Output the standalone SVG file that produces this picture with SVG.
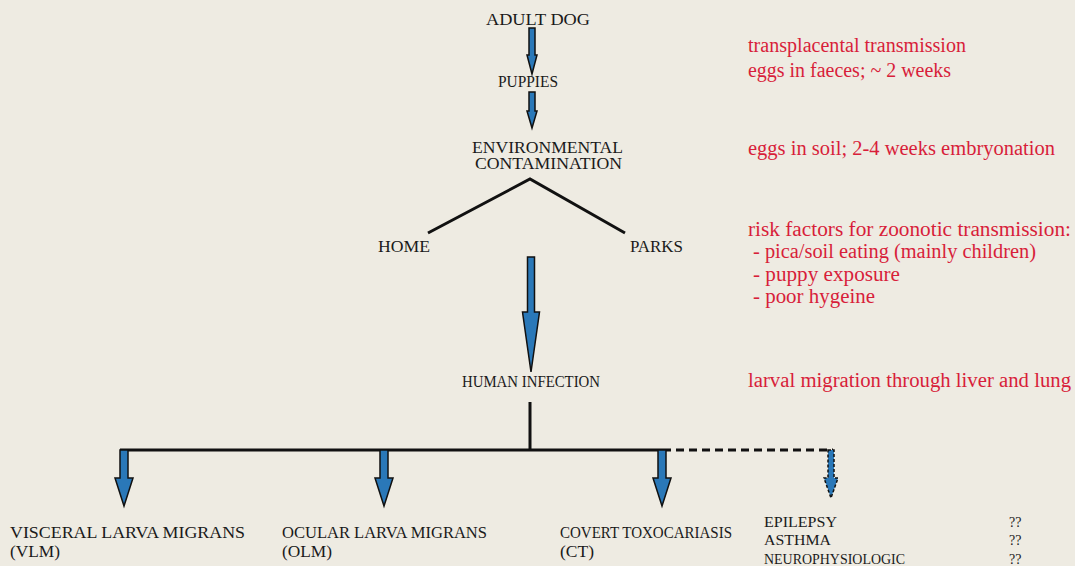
<svg xmlns="http://www.w3.org/2000/svg" width="1075" height="566" viewBox="0 0 1075 566">
<style>
text{font-family:'Liberation Serif','Times New Roman',serif}
.t{font-size:16px;fill:#1a1a1a}
.s{font-size:14px}
.r{font-size:20px;fill:#d81e3a}
.ln{stroke:#111;stroke-width:3;fill:none}
.ar{fill:#2a78b8;stroke:#111;stroke-width:1.5;stroke-linejoin:miter}
.ard{fill:#2a78b8;stroke:#111;stroke-width:1.5;stroke-dasharray:3 2}
</style>
<rect width="1075" height="566" fill="#eeebe2"/>
<g id="connectors">
<polygon class="ar" points="529,28 535,28 535,55 537,55 532,74 527,55 529,55"/>
<polygon class="ar" points="529,92 535,92 535,111 537,111 532,128 527,111 529,111"/>
<path class="ln" d="M428,233 L530,179 L625,233"/>
<polygon class="ar" points="527.5,257 534.5,257 534.5,312 539.5,312 531,372 522.5,312 527.5,312"/>
<path class="ln" d="M530,402 V450"/>
<path class="ln" d="M120,450 H663"/>
<path class="ln" d="M663,450 H833" stroke-dasharray="8 5"/>
<polygon class="ar" points="120,450 128,450 128,478 133,478 124,506 115,478 120,478"/>
<polygon class="ar" points="380,450 388,450 388,478 393,478 384,506 375,478 380,478"/>
<polygon class="ar" points="658,450 666,450 666,478 671,478 662,506 653,478 658,478"/>
<polygon class="ard" points="828,450 834,450 834,478 838,478 831,498 824,478 828,478"/>
</g>
<g id="adult-dog"><text class="t" x="486" y="25" textLength="104" lengthAdjust="spacingAndGlyphs">ADULT DOG</text></g>
<g id="puppies"><text class="t" x="498" y="87" textLength="60" lengthAdjust="spacingAndGlyphs">PUPPIES</text></g>
<g id="env"><text class="t" x="472" y="153" textLength="151" lengthAdjust="spacingAndGlyphs">ENVIRONMENTAL</text><text class="t" x="475" y="169" textLength="147" lengthAdjust="spacingAndGlyphs">CONTAMINATION</text></g>
<g id="home"><text class="t" x="378" y="252" textLength="52" lengthAdjust="spacingAndGlyphs">HOME</text></g>
<g id="parks"><text class="t" x="630" y="252" textLength="53" lengthAdjust="spacingAndGlyphs">PARKS</text></g>
<g id="human"><text class="t" x="462" y="387" textLength="138" lengthAdjust="spacingAndGlyphs">HUMAN INFECTION</text></g>
<g id="vlm"><text class="t" x="10" y="538" textLength="235" lengthAdjust="spacingAndGlyphs">VISCERAL LARVA MIGRANS</text><text class="t" x="10" y="557" textLength="50" lengthAdjust="spacingAndGlyphs">(VLM)</text></g>
<g id="olm"><text class="t" x="282" y="538" textLength="205" lengthAdjust="spacingAndGlyphs">OCULAR LARVA MIGRANS</text><text class="t" x="282" y="557" textLength="50" lengthAdjust="spacingAndGlyphs">(OLM)</text></g>
<g id="ct"><text class="t" x="560" y="538" textLength="172" lengthAdjust="spacingAndGlyphs">COVERT TOXOCARIASIS</text><text class="t" x="560" y="557" textLength="34" lengthAdjust="spacingAndGlyphs">(CT)</text></g>
<g id="other">
<text class="t s" x="764" y="527" textLength="73" lengthAdjust="spacingAndGlyphs">EPILEPSY</text>
<text class="t s" x="764" y="545" textLength="67" lengthAdjust="spacingAndGlyphs">ASTHMA</text>
<text class="t s" x="764" y="564" textLength="141" lengthAdjust="spacingAndGlyphs">NEUROPHYSIOLOGIC</text>
<text class="t s" x="1009" y="527">??</text>
<text class="t s" x="1009" y="545">??</text>
<text class="t s" x="1009" y="564">??</text>
</g>
<g id="notes">
<text class="r" x="748" y="52" textLength="218" lengthAdjust="spacingAndGlyphs">transplacental transmission</text>
<text class="r" x="748" y="77" textLength="203" lengthAdjust="spacingAndGlyphs">eggs in faeces; ~ 2 weeks</text>
<text class="r" x="748" y="155" textLength="307" lengthAdjust="spacingAndGlyphs">eggs in soil; 2-4 weeks embryonation</text>
<text class="r" x="748" y="236" textLength="323" lengthAdjust="spacingAndGlyphs">risk factors for zoonotic transmission:</text>
<text class="r" x="753" y="258" textLength="283" lengthAdjust="spacingAndGlyphs">- pica/soil eating (mainly children)</text>
<text class="r" x="753" y="281" textLength="147" lengthAdjust="spacingAndGlyphs">- puppy exposure</text>
<text class="r" x="753" y="303" textLength="122" lengthAdjust="spacingAndGlyphs">- poor hygeine</text>
<text class="r" x="748" y="387" textLength="323" lengthAdjust="spacingAndGlyphs">larval migration through liver and lung</text>
</g>
</svg>
